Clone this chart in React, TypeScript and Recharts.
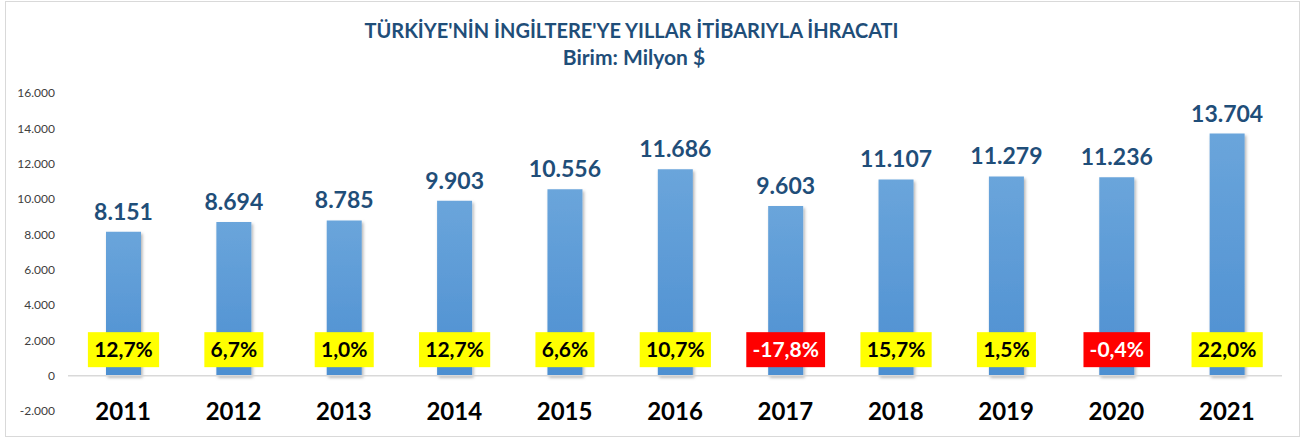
import React from "react";
import { BarChart, Bar, XAxis, YAxis, LabelList, ReferenceLine } from "recharts";

const years = ["2011", "2012", "2013", "2014", "2015", "2016", "2017", "2018", "2019", "2020", "2021"];
const exportsValues = [8151, 8694, 8785, 9903, 10556, 11686, 9603, 11107, 11279, 11236, 13704];
const changeLabels = ["12,7%", "6,7%", "1,0%", "12,7%", "6,6%", "10,7%", "-17,8%", "15,7%", "1,5%", "-0,4%", "22,0%"];
const yTicks = [-2000, 0, 2000, 4000, 6000, 8000, 10000, 12000, 14000, 16000];

const data = years.map((y, i) => ({ year: y, value: exportsValues[i], change: changeLabels[i] }));

const FONT = "Lato, 'Open Sans', sans-serif";
const BLUE_TEXT = "#1F4E79";

const fmt = (v: number) => {
  const neg = v < 0;
  const s = Math.abs(v).toString().replace(/\B(?=(\d{3})+(?!\d))/g, ".");
  return (neg ? "-" : "") + s;
};

const charW = (c: string) => {
  if (/[0-9]/.test(c)) return 0.58;
  if (c === ",") return 0.24;
  if (c === "%") return 0.84;
  if (c === "-") return 0.36;
  return 0.5;
};

const ChangeLabel = (props: any) => {
  const { x, y, width, height, index } = props;
  const txt = changeLabels[index];
  const fs = 21;
  const tw = txt.split("").reduce((a: number, c: string) => a + charW(c) * fs, 0);
  const bw = tw + 12;
  const bh = 35;
  const cx = x + width / 2;
  const base = y + height;
  const cy = base - 26;
  const neg = txt.startsWith("-");
  return (
    <g>
      <rect x={cx - bw / 2} y={cy - bh / 2} width={bw} height={bh} fill={neg ? "#FF0000" : "#FFFF00"} />
      <text x={cx} y={cy} dy={7} textAnchor="middle" fontFamily={FONT} fontWeight={700} fontSize={fs} fill={neg ? "#FFFFFF" : "#000000"}>
        {txt}
      </text>
    </g>
  );
};

const YearTick = (props: any) => {
  const { x, payload } = props;
  return (
    <text x={x} y={420} textAnchor="middle" fontFamily={FONT} fontWeight={700} fontSize={24} fill="#000000">
      {payload.value}
    </text>
  );
};

export default function App() {
  return (
    <div style={{ position: "fixed", left: 0, top: 0, width: 1307, height: 438, background: "#fff" }}>
      <div style={{ position: "absolute", left: 5, top: 1, width: 1293, height: 434, border: "1px solid #D9D9D9" }} />
      <div style={{ position: "absolute", left: 0, width: 1263, top: 18, textAlign: "center", fontFamily: FONT, fontWeight: 700, fontSize: 20, color: BLUE_TEXT, lineHeight: "24px" }}>
        TÜRKİYE'NİN İNGİLTERE'YE YILLAR İTİBARIYLA İHRACATI
      </div>
      <div style={{ position: "absolute", left: 0, width: 1268, top: 45, textAlign: "center", fontFamily: FONT, fontWeight: 700, fontSize: 21, color: BLUE_TEXT, lineHeight: "24px" }}>
        Birim: Milyon $
      </div>
      <div style={{ position: "absolute", left: 0, top: 0 }}>
        <BarChart width={1307} height={438} data={data} margin={{ top: 93, right: 25, bottom: 0, left: 0 }} barSize={35}>
          <defs>
            <filter id="barShadow" x="-20%" y="-5%" width="150%" height="115%">
              <feDropShadow dx="1.5" dy="2" stdDeviation="1.5" floodColor="#000" floodOpacity="0.3" />
            </filter>
            <linearGradient id="barGrad" x1="0" y1="0" x2="0" y2="1">
              <stop offset="0%" stopColor="#6AA5DB" />
              <stop offset="100%" stopColor="#4D8FD1" />
            </linearGradient>
          </defs>
          <XAxis dataKey="year" axisLine={false} tickLine={false} height={27} tick={<YearTick />} interval={0} />
          <YAxis
            domain={[-2000, 16000]}
            ticks={yTicks}
            width={68}
            axisLine={false}
            tickLine={false}
            tickSize={0}
            tickMargin={13}
            tickFormatter={fmt}
            tick={{ fontFamily: FONT, fontSize: 12, fill: "#404040" }}
            allowDataOverflow
          />
          <ReferenceLine y={0} stroke="#D9D9D9" strokeWidth={1.5} />
          <Bar dataKey="value" fill="url(#barGrad)" isAnimationActive={false} style={{ filter: "url(#barShadow)" }}>
            <LabelList dataKey="value" position="top" offset={12} formatter={(v: any) => fmt(Number(v))} style={{ fontFamily: FONT, fontWeight: 700, fontSize: 23, fill: BLUE_TEXT }} />
            <LabelList dataKey="change" content={<ChangeLabel />} />
          </Bar>
        </BarChart>
      </div>
    </div>
  );
}
